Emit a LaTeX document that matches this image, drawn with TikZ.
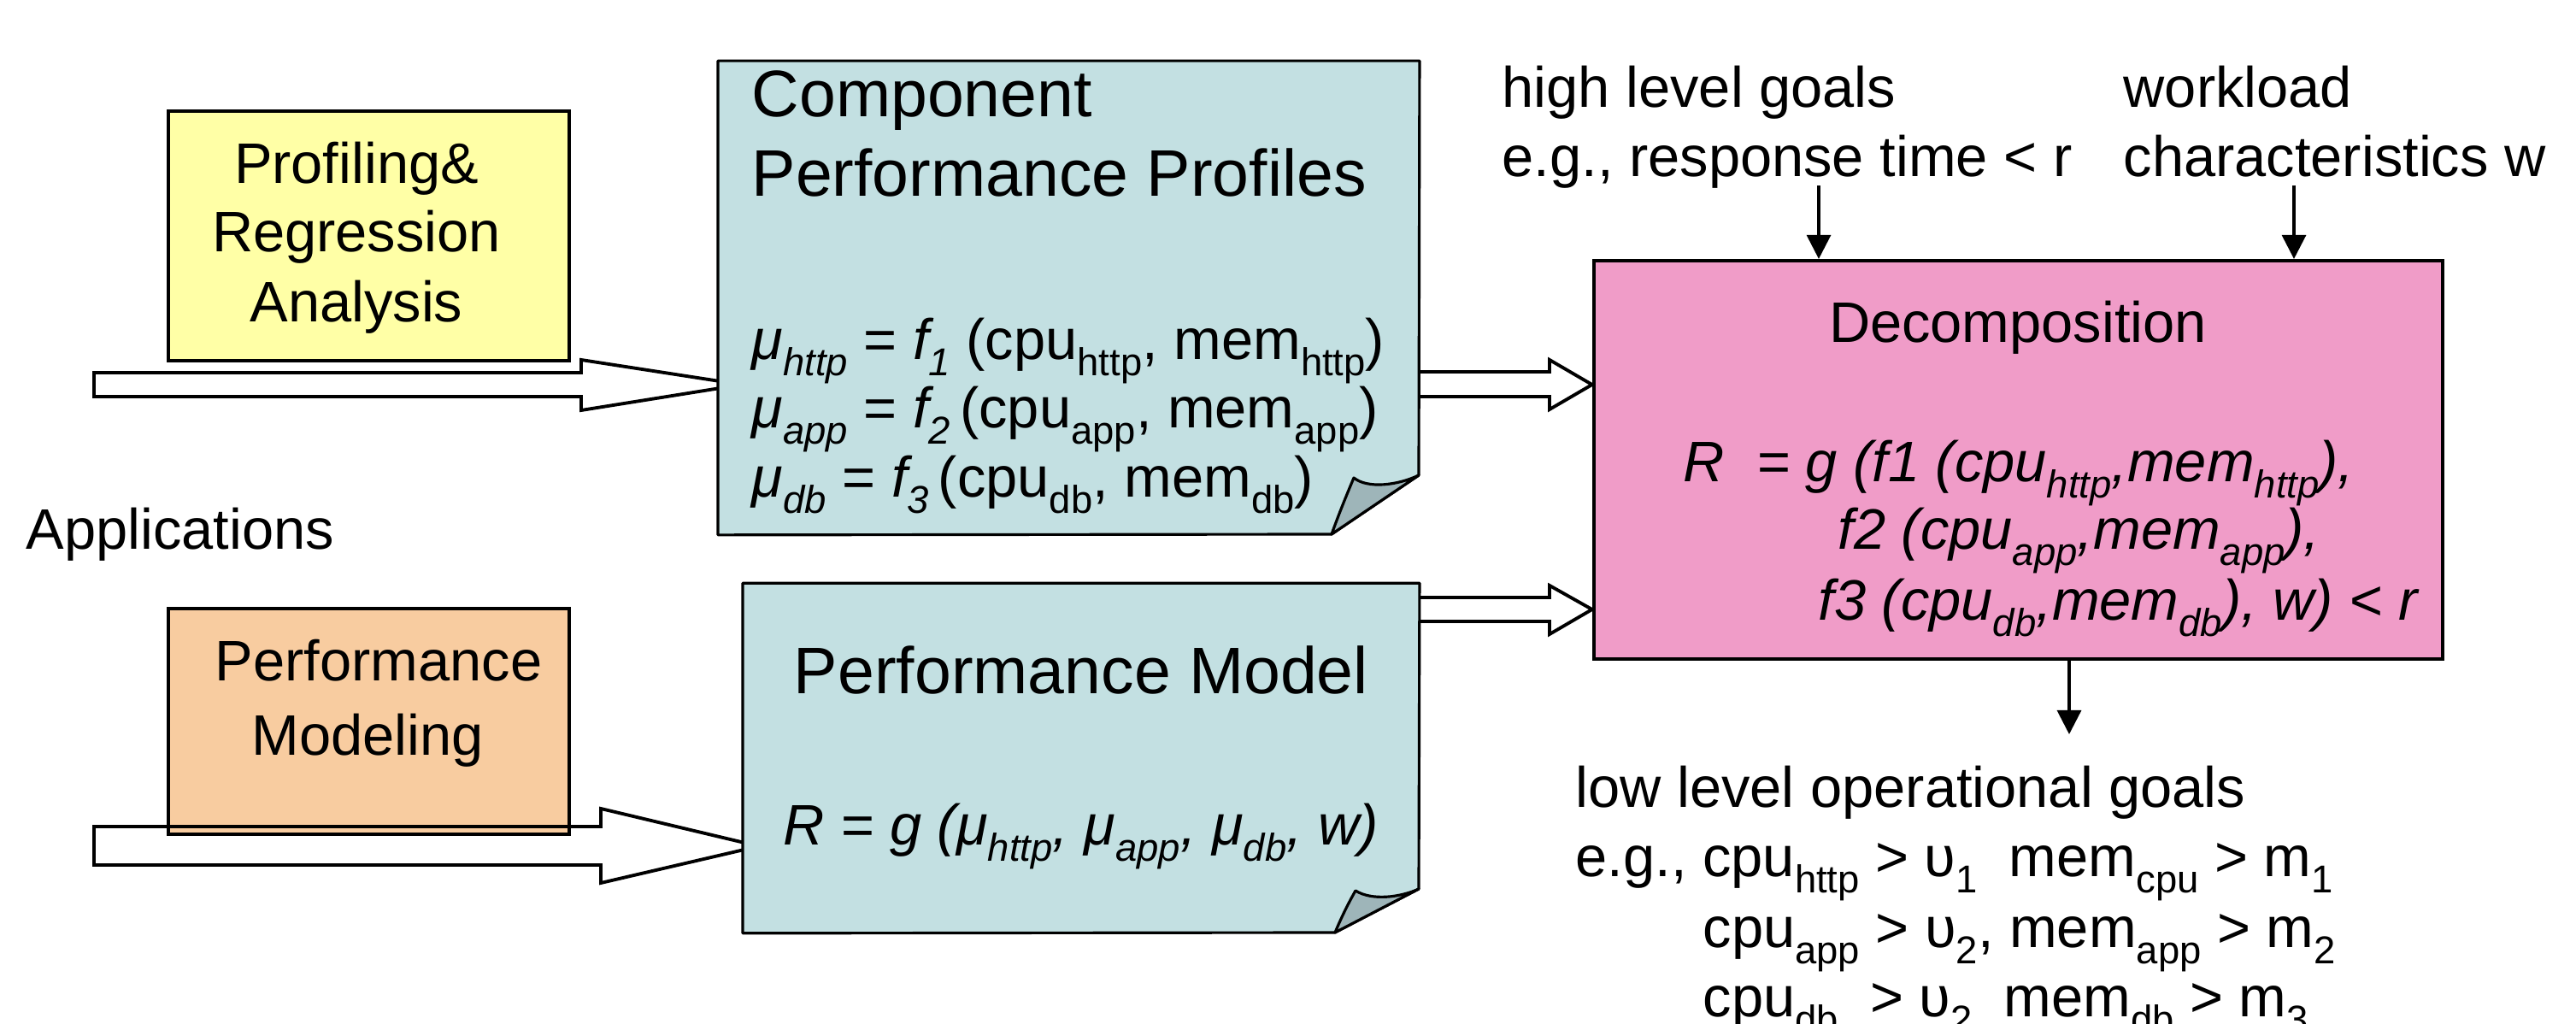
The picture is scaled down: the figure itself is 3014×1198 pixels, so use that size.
\documentclass[tikz,border=0pt]{standalone}
\usepackage{fontspec}
\setmainfont{Liberation Sans}
\usetikzlibrary{arrows.meta,calc}
\definecolor{yel}{HTML}{FFFFA6}
\definecolor{ora}{HTML}{F8CCA0}
\definecolor{blu}{HTML}{C3E0E2}
\definecolor{pnk}{HTML}{F09CC8}
\definecolor{fld}{HTML}{9EB5B9}
\newcommand\sbs[1]{\raisebox{-0.27em}{\scalebox{0.68}{#1}}}
\newcommand\fa{\fontsize{19pt}{23pt}\selectfont}
\newcommand\fb{\fontsize{21.9pt}{26pt}\selectfont}
\begin{document}
\begin{tikzpicture}[x=0.01cm,y=-0.01cm,
  box/.style={draw=black, line width=1.1pt, inner sep=0pt},
  hold/.style={draw=none, inner sep=0pt},
  note/.style={draw=black, line width=0.9pt, line join=round},
  blk/.style={draw=black, line width=1.1pt, line join=miter},
  thinarr/.style={draw=black, line width=0.9pt, -{Triangle[length=0.28cm,width=0.28cm]}},
  txt/.style={inner sep=0pt, font=\fa},
  big/.style={inner sep=0pt, font=\fb}]
\fill[white] (0,0) rectangle (3014,1198);
\useasboundingbox (0,0) rectangle (3014,1198);

% left boxes
\node[box, fill=yel, minimum width=4.69cm, minimum height=2.92cm] (pra) at (431.5,276) {};
\node[box, fill=ora, minimum width=4.69cm, minimum height=2.64cm] (pm) at (431.5,844) {};

% left block arrows (unfilled)
\draw[blk] (110,436) -- (680,436) -- (680,421) -- (868,450) -- (680,480) -- (680,464) -- (110,464) -- cycle;
\draw[blk] (110,967) -- (703,967) -- (703,946) -- (888,990) -- (703,1033) -- (703,1012) -- (110,1012) -- cycle;

% note 1
\node[hold, minimum width=8.19cm, minimum height=5.53cm] (cpp) at (1250.5,348.5) {};
\path[note, fill=blu] (cpp.north west) -- (cpp.north east) -- (1660,556) -- (1558,625) -- (cpp.south west) -- cycle;
\path[note, fill=fld] (1558,625) .. controls (1567,600) and (1576,578) .. (1584,559)
  .. controls (1600,572) and (1635,568) .. (1660,556) -- cycle;

% note 2
\node[hold, minimum width=7.90cm, minimum height=4.08cm] (pmod) at (1265,887) {};
\path[note, fill=blu] (pmod.north west) -- (pmod.north east) -- (1660,1040) -- (1562,1091) -- (pmod.south west) -- cycle;
\path[note, fill=fld] (1562,1091) .. controls (1570,1072) and (1578,1056) .. (1586,1042)
  .. controls (1605,1054) and (1638,1050) .. (1660,1040) -- cycle;

% pink box
\node[box, fill=pnk, minimum width=9.93cm, minimum height=4.66cm] (dec) at (2361.5,538) {};

% right double arrows
\draw[blk] (1660,435) -- (1813,435) -- (1813,421) -- (dec.west |- 0,450) -- (1813,479) -- (1813,464) -- (1660,464);
\draw[blk] (1660,699) -- (1813,699) -- (1813,685) -- (dec.west |- 0,713) -- (1813,742) -- (1813,727) -- (1660,727);

% texts left
\node[txt, anchor=base] (t1) at (417,215) {Profiling\&};
\node[txt, anchor=base] (t2) at (417,295) {Regression};
\node[txt, anchor=base] (t3) at (417,377) {Analysis};
\node[txt, anchor=base west] (app) at (30,643) {Applications};
\node[txt, anchor=base] (t4) at (443,797) {Performance};
\node[txt, anchor=base] (t5) at (430,884) {Modeling};

% note 1 texts
\node[big, anchor=base west] (c1) at (879,137) {Component};
\node[big, anchor=base west] (c2) at (879,230) {Performance Profiles};
\node[txt, anchor=base west] (f1) at (879,421) {\textit{μ\sbs{http}} = \textit{f\sbs{1}} (cpu\sbs{http}, mem\sbs{http})};
\node[txt, anchor=base west] (f2) at (879,501) {\textit{μ\sbs{app}} = \textit{f\sbs{2}}\,(cpu\sbs{app}, mem\sbs{app})};
\node[txt, anchor=base west] (f3) at (879,582) {\textit{μ\sbs{db}} = \textit{f\sbs{3}}\,(cpu\sbs{db}, mem\sbs{db})};

% note 2 texts
\node[big, anchor=base] (m1) at (1265,812) {Performance Model};
\node[txt, anchor=base] (m2) at (1265,989) {\textit{R = g (μ\sbs{http}, μ\sbs{app}, μ\sbs{db}, w)}};

% top texts
\node[txt, anchor=base west] (h1) at (1757,126) {high level goals};
\node[txt, anchor=base west] (h2) at (1757,207) {e.g., response time < r};
\node[txt, anchor=base west] (w1) at (2484,126) {workload};
\node[txt, anchor=base west] (w2) at (2484,207) {characteristics w};

% pink texts
\node[txt, anchor=base] (d0) at (2361,401) {Decomposition};
\node[txt, anchor=base west] (d1) at (1969,564) {\itshape R\ \ = g (f1 (cpu\sbs{http},mem\sbs{http}),};
\node[txt, anchor=base west] (d2) at (2150,643) {\itshape f2 (cpu\sbs{app},mem\sbs{app}),};
\node[txt, anchor=base west] (d3) at (2127,726) {\itshape f3 (cpu\sbs{db},mem\sbs{db}), w) < r};

% bottom texts
\node[txt, anchor=base west] (l1) at (1843,945) {low level operational goals};
\node[txt, anchor=base west] (l2) at (1843,1026) {e.g., cpu\sbs{http} > υ\sbs{1}\ \ mem\sbs{cpu} > m\sbs{1}};
\node[txt, anchor=base west] (l3) at (1992,1109) {cpu\sbs{app} > υ\sbs{2}, mem\sbs{app} > m\sbs{2}};
\node[txt, anchor=base west] (l4) at (1992,1190) {cpu\sbs{db} \ > υ\sbs{2} \ mem\sbs{db} > m\sbs{3}};

% thin arrows
\coordinate (ha) at (2128,217);
\coordinate (wa) at (2684,217);
\coordinate (la) at (2421,859);
\draw[thinarr] (ha) -- (ha |- dec.north);
\draw[thinarr] (wa) -- (wa |- dec.north);
\draw[thinarr] (dec.south -| la) -- (la);
\end{tikzpicture}
\end{document}
